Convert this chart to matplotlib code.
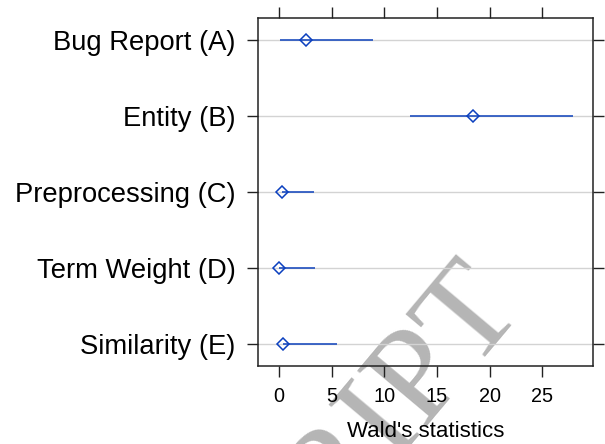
import numpy as np
import matplotlib.pyplot as plt

plt.rcParams['font.family'] = ['Liberation Sans', 'DejaVu Sans']

# factor names, top to bottom
labels = ["Bug Report (A)", "Entity (B)", "Preprocessing (C)",
          "Term Weight (D)", "Similarity (E)"]
# Wald statistic: point estimate and interval
wald = [2.6, 18.4, 0.3, 0.0, 0.4]
lower = [0.1, 12.4, 0.3, 0.0, 0.4]
upper = [8.9, 27.9, 3.3, 3.4, 5.5]
xticks = [0, 5, 10, 15, 20, 25]

fig = plt.figure(figsize=(6.05, 4.44), dpi=100)
ax = fig.add_axes([0.4264, 0.1757, 0.5533, 0.7838])
ax.set_facecolor('none')

ypos = np.arange(len(labels))[::-1] + 1

# light grey reference lines
for y in ypos:
    ax.axhline(y, color='#d3d3d3', lw=1.0, zorder=1)

ax.hlines(ypos, lower, upper, color='#1f4fbf', lw=1.2, zorder=2)
ax.plot(wald, ypos, ls='none', marker='D', ms=6.5, mfc='none',
        mec='#0b3fbf', mew=1.1, zorder=3)

ax.set_xlim(-2.0, 29.8)
ax.set_ylim(0.71, 5.29)
ax.set_yticks(ypos)
ax.set_yticklabels(labels, fontsize=19.7)
ax.set_xticks(xticks)
ax.set_xticklabels([str(t) for t in xticks], fontsize=14.3)
ax.tick_params(axis='both', direction='out', length=8, width=1.0,
               color='#222222', top=True, right=True)
ax.tick_params(axis='x', pad=7)
ax.tick_params(axis='y', pad=8)
for s in ax.spines.values():
    s.set_linewidth(1.1)
    s.set_color('#222222')

ax.set_xlabel("Wald's statistics", fontsize=16, labelpad=11)

# watermark left in the source image
fig.text(0.869, 0.304, "ACCEPTED MANUSCRIPT", fontsize=98,
         family='Liberation Serif', color='#b5b5b5', rotation=50,
         rotation_mode='anchor', ha='right', va='baseline', zorder=-1)

fig.savefig('out.png', dpi=100)
